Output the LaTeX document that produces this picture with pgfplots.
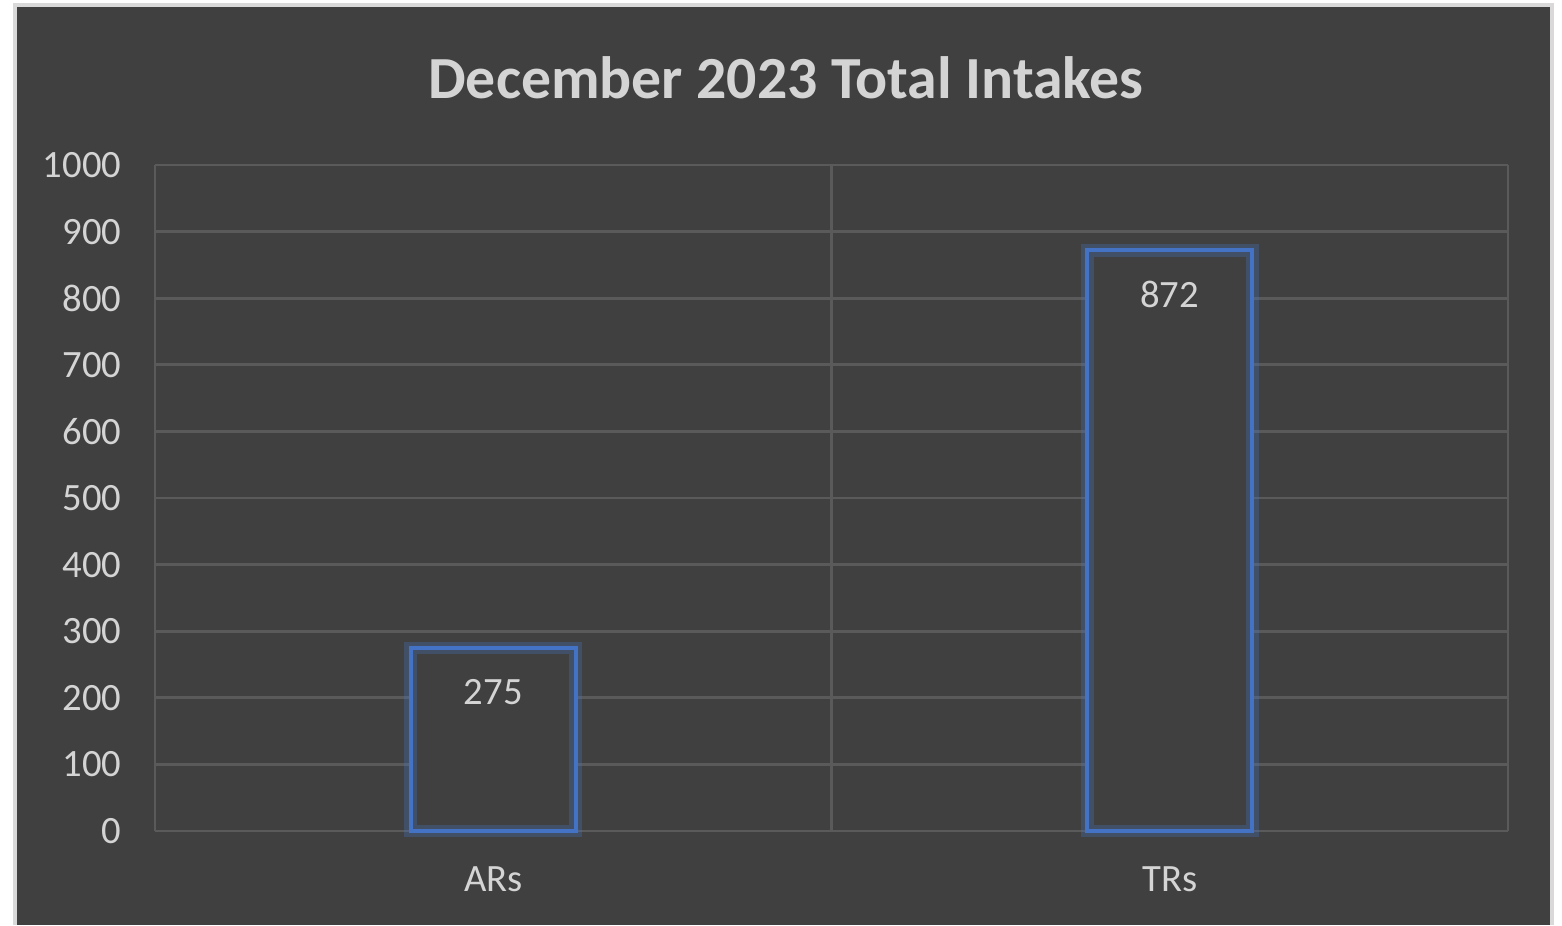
\documentclass[border=0pt]{standalone}
\usepackage{pgfplots}
\pgfplotsset{compat=1.18}
\usepackage{fontspec}
\setmainfont{Carlito}
\definecolor{bg}{HTML}{404040}
\definecolor{gridc}{HTML}{5A5A5A}
\definecolor{txt}{HTML}{D4D4D4}
\definecolor{barc}{HTML}{4472C4}
\begin{document}
\begin{tikzpicture}[x=0.1mm,y=0.1mm]
\path[use as bounding box] (0,0) rectangle (1562,925);
\fill[white] (0,0) rectangle (1562,925);
\fill[bg] (15,0) rectangle (1552,920);
\draw[black!15, line width=1.2pt] (15,0) -- (15,920) -- (1552,920) -- (1552,0);
\node[font=\bfseries\fontsize{17}{20}\selectfont, text=txt] at (786,847) {December 2023 Total Intakes};
\begin{axis}[
  at={(1.55cm,0.94cm)}, anchor=south west,
  scale only axis, width=13.53cm, height=6.66cm,
  xmin=-0.5, xmax=1.5, ymin=0, ymax=1000,
  ytick={0,100,...,1000},
  xtick={0,1}, xticklabels={ARs,TRs},
  minor xtick={-0.5,0.5,1.5}, xminorgrids, ymajorgrids,
  grid style={gridc, line width=0.8pt},
  minor grid style={gridc, line width=0.8pt},
  axis line style={draw=none},
  tick style={draw=none},
  /pgf/number format/assume math mode=true,
  /pgf/number format/1000 sep={},
  ticklabel style={text=txt, font=\fontsize{11}{13}\selectfont},
  yticklabel style={inner sep=0pt, xshift=-3.3mm},
  xticklabel style={inner sep=0pt, yshift=-3.5mm},
  clip=false,
]
\addplot[ybar, bar width=1.65cm, bar shift=0pt, draw=none, fill=bg]
  coordinates {(0,275) (1,872)};
\addplot[ybar, bar width=1.65cm, bar shift=0pt, draw=barc, draw opacity=0.3, line width=3.6pt, fill=none]
  coordinates {(0,275) (1,872)};
\addplot[ybar, bar width=1.65cm, bar shift=0pt, draw=barc, line width=1.2pt, fill=none,
  nodes near coords,
  every node near coord/.append style={anchor=center, yshift=-4.4mm, text=txt, font=\fontsize{11}{13}\selectfont}]
  coordinates {(0,275) (1,872)};
\end{axis}
\end{tikzpicture}
\end{document}
